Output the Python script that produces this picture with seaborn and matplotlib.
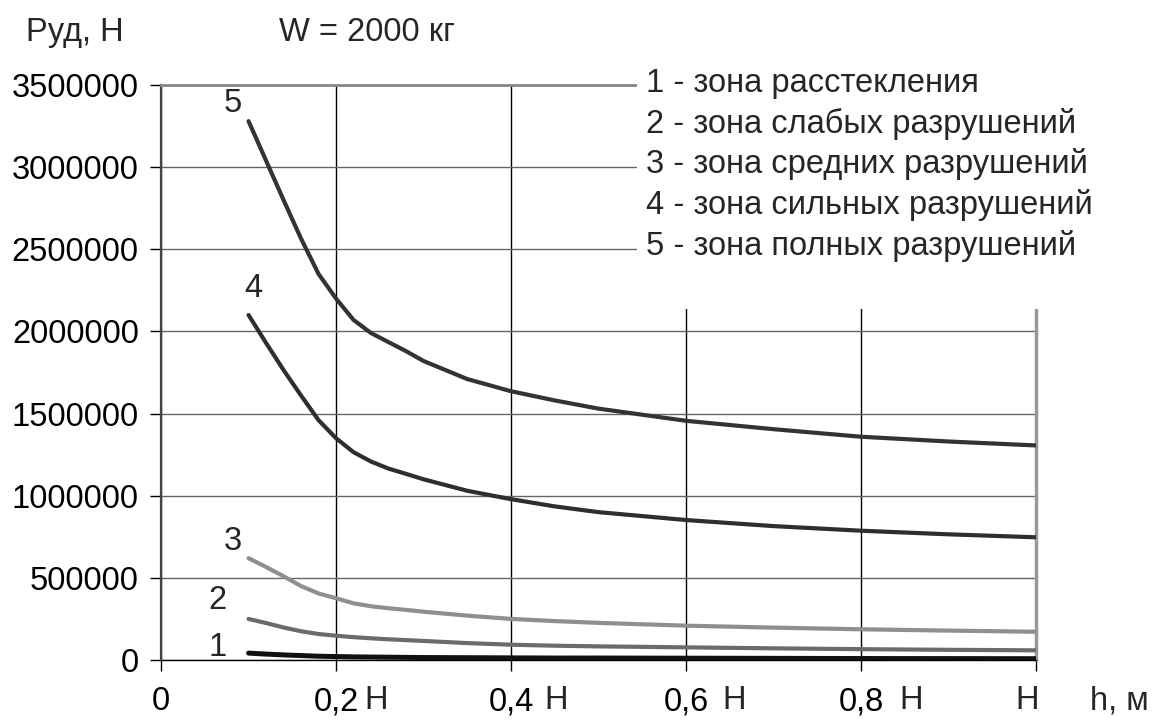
import matplotlib
matplotlib.use("Agg")
import matplotlib.pyplot as plt
from matplotlib.patches import Rectangle
import seaborn as sns
import pandas as pd

h = [0.1, 0.12, 0.14, 0.16, 0.18, 0.2, 0.22, 0.24, 0.26, 0.28, 0.3,
     0.35, 0.4, 0.45, 0.5, 0.6, 0.7, 0.8, 0.9, 1.0]

zone_5 = [3280000, 3040000, 2800000, 2565000, 2350000, 2200000, 2070000, 1990000, 1935000, 1880000,
          1820000, 1710000, 1636000, 1580000, 1530000, 1456000, 1405000, 1359000, 1330000, 1306000]
zone_4 = [2100000, 1930000, 1765000, 1610000, 1460000, 1350000, 1265000, 1208000, 1165000, 1133000,
          1100000, 1030000, 979000, 935000, 900000, 852000, 815000, 787000, 765000, 747000]
zone_3 = [620000, 566000, 510000, 450000, 405000, 376000, 345000, 327000, 315000, 305000,
          294000, 270000, 250000, 237000, 226000, 209000, 197000, 187000, 179000, 172000]
zone_2 = [250000, 225000, 198000, 175000, 158000, 148000, 139000, 132000, 126000, 121000,
          116000, 103000, 93000, 87000, 83000, 77000, 71000, 66000, 62000, 59000]
zone_1 = [42000, 36000, 31000, 27000, 23000, 21000, 19000, 18000, 17000, 16000,
          15000, 14000, 13000, 12000, 12000, 11000, 10000, 9000, 8500, 8000]

legend_labels = [
    "1 - зона расстекления",
    "2 - зона слабых разрушений",
    "3 - зона средних разрушений",
    "4 - зона сильных разрушений",
    "5 - зона полных разрушений",
]
x_ticks = [0, 0.2, 0.4, 0.6, 0.8, 1.0]
x_tick_labels = ["0", "0,2", "0,4", "0,6", "0,8", ""]
y_ticks = [0, 500000, 1000000, 1500000, 2000000, 2500000, 3000000, 3500000]

FS = 23.5

sns.set_theme(style="white")
plt.rcParams["font.family"] = ["Liberation Sans", "DejaVu Sans"]

fig = plt.figure(figsize=(11.52, 7.21), dpi=100)
ax = fig.add_axes([0.1398, 0.0846, 0.7595, 0.7975])

curves = [
    ("1", zone_1, "#111111", 3.6),
    ("2", zone_2, "#6b6b6b", 3.0),
    ("3", zone_3, "#8f8f8f", 3.0),
    ("4", zone_4, "#2e2e2e", 3.0),
    ("5", zone_5, "#333333", 3.0),
]
for (name, vals, color, lw), lab in zip(curves, legend_labels):
    df = pd.DataFrame({"h": h, "P": vals})
    sns.lineplot(data=df, x="h", y="P", ax=ax, color=color, linewidth=lw,
                 label=lab, zorder=4, solid_capstyle="round", solid_joinstyle="round")

ax.set_xlim(0, 1.0)
ax.set_ylim(0, 3500000)
ax.set_xticks(x_ticks)
ax.set_xticklabels(x_tick_labels)
ax.set_yticks(y_ticks)
ax.set_yticklabels([str(v) for v in y_ticks])
ax.tick_params(axis="both", labelsize=FS, colors="black", direction="out",
               length=8, width=1, left=True, bottom=True)
ax.tick_params(axis="y", pad=8)
ax.tick_params(axis="x", pad=11)
ax.set_xlabel("")
ax.set_ylabel("")

ax.yaxis.grid(True, color="#666666", linewidth=1)
ax.xaxis.grid(True, color="black", linewidth=1)
ax.set_axisbelow(True)

ax.spines["left"].set_color("#444444")
ax.spines["left"].set_linewidth(1.6)
ax.spines["bottom"].set_color("black")
ax.spines["bottom"].set_linewidth(1)
ax.spines["top"].set_color("#888888")
ax.spines["top"].set_linewidth(2)
ax.spines["right"].set_color("#999999")
ax.spines["right"].set_linewidth(2.5)

# white block behind the legend hides the grid there
ax.add_patch(Rectangle((0.553, 0.5714), 0.447, 0.4286, transform=fig.transFigure,
                       facecolor="white", edgecolor="none", zorder=3, clip_on=False))

leg = ax.legend(loc="upper left", bbox_to_anchor=(0.561, 0.906),
                bbox_transform=fig.transFigure, frameon=False, fontsize=FS,
                handlelength=0, handletextpad=0, labelspacing=0.27,
                borderpad=0, borderaxespad=0)
for line in leg.get_lines():
    line.set_visible(False)
leg.set_zorder(5)

# curve numbers
for txt, xv, yv in [("5", 0.0823, 3388000), ("4", 0.1052, 2263000), ("3", 0.0823, 724000),
                    ("2", 0.065, 365000), ("1", 0.065, 79000)]:
    ax.text(xv, yv, txt, fontsize=FS, ha="center", va="center", zorder=6)

# "Н" marks after the tick labels and axis name
for xv in [0.246, 0.452, 0.655, 0.857, 0.99]:
    ax.text(xv, -0.071, "Н", transform=ax.get_xaxis_transform(), fontsize=FS,
            ha="center", va="center")
ax.text(1.095, -0.071, "h, м", transform=ax.get_xaxis_transform(), fontsize=FS,
        ha="center", va="center")
fig.text(0.065, 0.955, "Руд, Н", fontsize=FS, ha="center", va="center")
fig.text(0.3186, 0.955, "W = 2000 кг", fontsize=FS, ha="center", va="center")

fig.savefig("out.png", dpi=100)
